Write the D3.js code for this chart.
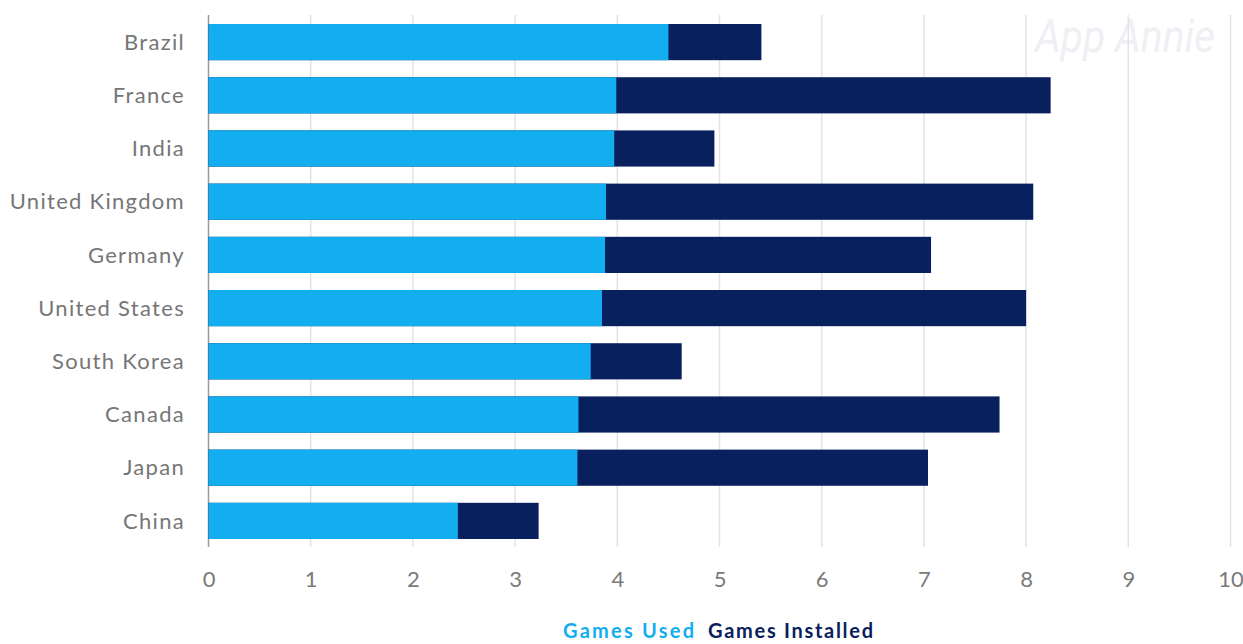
<!DOCTYPE html>
<html><head><meta charset="utf-8">
<script src="https://cdn.jsdelivr.net/npm/d3@7"></script>
<style>body{margin:0;background:#fff}svg{display:block}</style>
</head><body>
<svg id="c" width="1243" height="644"></svg>
<script>
const countries = ["Brazil","France","India","United Kingdom","Germany","United States","South Korea","Canada","Japan","China"];
const gamesUsed = [4.50,3.99,3.97,3.89,3.88,3.85,3.74,3.62,3.61,2.44];
const gamesInstalled = [5.41,8.24,4.95,8.07,7.07,8.00,4.63,7.74,7.04,3.23];
const xTicks = [0,1,2,3,4,5,6,7,8,9,10];
const seriesNames = ["Games Used","Games Installed"];
const colors = ["#12aeef","#08205e"];

const svg = d3.select("#c");
const x = d3.scaleLinear().domain([0,10]).range([208.5,1230.5]);
const y = d3.scaleBand().domain(countries).range([15.5,547.5]).paddingInner(0.32).paddingOuter(0.16);

// watermark
svg.append("text").attr("x",1035).attr("y",52)
  .attr("font-family","Roboto, sans-serif").attr("font-style","italic").attr("font-weight",400)
  .attr("font-size",46).attr("fill","#eef0f4").attr("textLength",180).attr("lengthAdjust","spacingAndGlyphs").text("App Annie");

// grid
svg.append("g").selectAll("line").data(xTicks.filter(d=>d>0)).join("line")
  .attr("x1",d=>x(d)).attr("x2",d=>x(d)).attr("y1",15).attr("y2",547)
  .attr("stroke","#e2e3e6").attr("stroke-width",1.5);
svg.append("line").attr("x1",x(0)).attr("x2",x(0)).attr("y1",15).attr("y2",547)
  .attr("stroke","#9a9a9a").attr("stroke-width",1.5);

// bars
const g = svg.append("g");
g.selectAll("rect.inst").data(countries).join("rect").attr("class","inst")
  .attr("x",x(0)).attr("y",d=>y(d)).attr("height",y.bandwidth())
  .attr("width",(d,i)=>x(gamesInstalled[i])-x(0)).attr("fill",colors[1]);
g.selectAll("rect.used").data(countries).join("rect").attr("class","used")
  .attr("x",x(0)).attr("y",d=>y(d)).attr("height",y.bandwidth())
  .attr("width",(d,i)=>x(gamesUsed[i])-x(0)).attr("fill",colors[0]);

// y labels
svg.append("g").selectAll("text").data(countries).join("text")
  .attr("x",185).attr("y",d=>y(d)+y.bandwidth()/2).attr("dy","0.35em")
  .attr("text-anchor","end").attr("font-family","Lato, sans-serif").attr("font-size",22)
  .attr("letter-spacing",1.3).attr("fill","#767676").text(d=>d);

// x axis
const xa = svg.append("g").attr("transform","translate(0,547)")
  .call(d3.axisBottom(x).tickValues(xTicks).tickSize(0).tickPadding(24).tickFormat(d3.format("d")));
xa.select(".domain").remove();
xa.selectAll("text").attr("font-family","Lato, sans-serif").attr("font-size",22).attr("fill","#7a7a7a");

// legend
const lg = svg.append("text").attr("y",638).attr("font-family","Lato, sans-serif").attr("font-weight",700).attr("font-size",20);
lg.append("tspan").attr("x",563).attr("fill",colors[0]).attr("textLength",131).text(seriesNames[0]);
lg.append("tspan").attr("x",708).attr("fill",colors[1]).attr("textLength",165).text(seriesNames[1]);
</script>
</body></html>
